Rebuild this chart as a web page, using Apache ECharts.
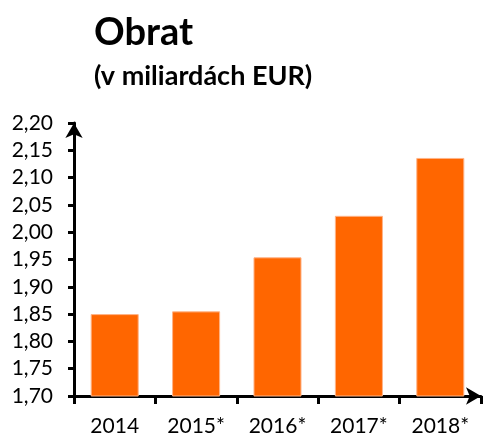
<!DOCTYPE html>
<html>
<head>
<meta charset="utf-8">
<script src="https://cdn.jsdelivr.net/npm/echarts@6/dist/echarts.min.js"></script>
<style>
  body { margin: 0; background: #fff; }
  #main { width: 484px; height: 437px; }
</style>
</head>
<body>
<div id="main"></div>
<script>
// years and turnover (bn EUR)
const years = ["2014", "2015*", "2016*", "2017*", "2018*"];
const turnover = [1.85, 1.855, 1.954, 2.03, 2.136];

const myChart = echarts.init(document.getElementById("main"));

const font = "Lato";

myChart.setOption({
  animation: false,
  title: {
    text: "Obrat",
    subtext: "(v miliardách EUR)",
    left: 89,
    top: 9,
    itemGap: 11,
    textStyle: { fontFamily: font, fontWeight: "bold", fontSize: 38, color: "#000" },
    subtextStyle: { fontFamily: font, fontWeight: "bold", fontSize: 27, color: "#000" }
  },
  grid: { left: 74, right: 3, top: 123, bottom: 41 },
  xAxis: {
    type: "category",
    data: years,
    axisLine: {
      lineStyle: { color: "#000", width: 3 },
      symbol: ["none", "arrow"],
      symbolSize: [13, 15]
    },
    axisTick: { show: true, length: 8, lineStyle: { color: "#000", width: 3 } },
    axisLabel: { margin: 20, fontFamily: font, fontSize: 21, color: "#000" }
  },
  yAxis: {
    type: "value",
    min: 1.7,
    max: 2.2,
    interval: 0.05,
    splitLine: { show: false },
    axisLine: {
      show: true,
      lineStyle: { color: "#000", width: 3 },
      symbol: ["none", "arrow"],
      symbolSize: [13, 15]
    },
    axisTick: { show: true, length: 6, lineStyle: { color: "#000", width: 3 } },
    axisLabel: {
      margin: 21,
      fontFamily: font,
      fontSize: 21,
      color: "#000",
      formatter: function (v) { return v.toFixed(2).replace(".", ","); }
    }
  },
  series: [{
    type: "bar",
    data: turnover,
    barWidth: "59%",
    itemStyle: { color: "#ff6600", borderColor: "#ffb487", borderWidth: 1 }
  }]
});
</script>
</body>
</html>
